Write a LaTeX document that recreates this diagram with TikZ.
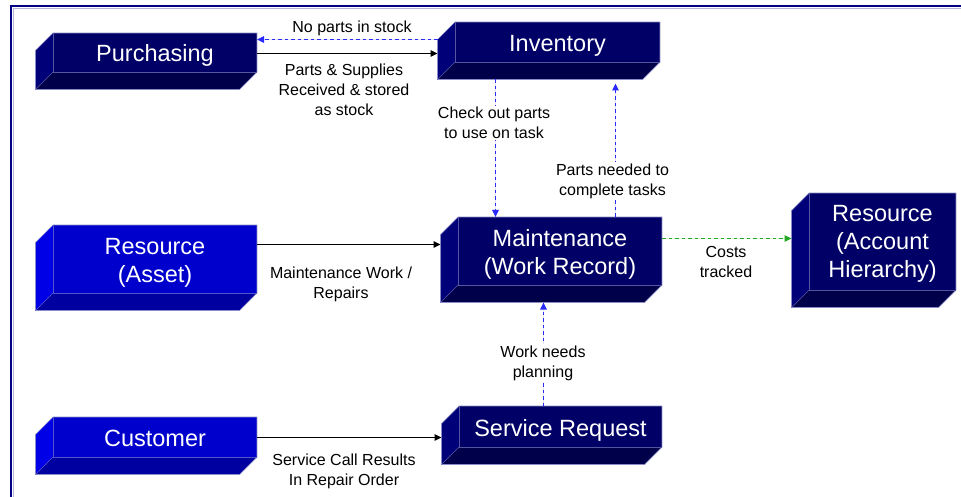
\documentclass[tikz,border=0pt]{standalone}
\usepackage{fontspec}
\setmainfont{Liberation Sans}
\usetikzlibrary{arrows.meta,calc}
\definecolor{navyF}{HTML}{000066}
\definecolor{navyS}{HTML}{000078}
\definecolor{navyB}{HTML}{00004A}
\definecolor{blueF}{HTML}{0000CC}
\definecolor{blueS}{HTML}{0000E6}
\definecolor{blueB}{HTML}{0000A0}
\definecolor{edgec}{HTML}{8C8CC8}
\definecolor{framec}{HTML}{000080}
\definecolor{framel}{HTML}{B4B4DC}
\definecolor{dblue}{HTML}{2A2AFF}
\definecolor{dgreen}{HTML}{22A822}
\tikzset{
  boxface/.style={draw=none, inner sep=0pt, outer sep=0pt},
  boxtext/.style={inner sep=0pt, align=center, text=white,
    font=\fontsize{23.5}{28}\selectfont},
  lbl/.style={align=center, inner sep=0.5pt, font=\fontsize{16}{20}\selectfont},
  lblw/.style={lbl, fill=white, inner sep=1.5pt},
  tip/.style={-{Triangle[length=7pt,width=6.5pt]}},
  solidarrow/.style={tip, draw=black, fill=black, line width=1pt},
  bluedash/.style={tip, draw=dblue, fill=dblue, line width=1.1pt, dash pattern=on 3.5pt off 3pt},
  greendash/.style={tip, draw=dgreen, fill=dgreen, line width=1.1pt, dash pattern=on 3.5pt off 3pt},
}
\newcommand\boxthree[8]{%
  \node[boxface, fill=#6, minimum width=#4pt, minimum height=#5pt] (#1) at (#2,#3) {};
  \fill[#7] (#1.north west) -- ($(#1.north west)+(-17.5,17.5)$) -- ($(#1.south west)+(-17.5,17.5)$) -- (#1.south west) -- cycle;
  \fill[#8] (#1.south west) -- (#1.south east) -- ($(#1.south east)+(-17.5,17.5)$) -- ($(#1.south west)+(-17.5,17.5)$) -- cycle;
  \draw[edgec, line width=0.7pt, line join=miter] ($(#1.north west)+(-17.5,17.5)$) -- (#1.north west) -- (#1.north east) -- (#1.south east) -- ($(#1.south east)+(-17.5,17.5)$) -- ($(#1.south west)+(-17.5,17.5)$) -- cycle;
  \draw[edgec!60!#6, line width=0.5pt] (#1.north west) -- (#1.south west) -- (#1.south east);
  \draw[edgec!60!#6, line width=0.5pt] (#1.south west) -- ($(#1.south west)+(-17.5,17.5)$);
  \coordinate (#1-bl) at ($(#1.west)+(-17.5,0)$);
  \coordinate (#1-b) at ($(#1.south)+(0,17.5)$);
}
\begin{document}
\begin{tikzpicture}[x=1pt,y=-1pt]
\useasboundingbox (0,0) rectangle (961,497);
\fill[white] (0,0) rectangle (961,497);
% frame
\draw[framel, line width=0.8pt] (13.6,497) -- (13.6,8.6) -- (961,8.6);
\draw[framec, line width=2.5pt] (11,497) -- (11,6) -- (961,6);

% boxes
\boxthree{purch}{155}{52.5}{204}{39}{navyF}{navyS}{navyB}
\boxthree{inv}{557.5}{42}{205}{40}{navyF}{navyS}{navyB}
\boxthree{asset}{155}{259}{204}{68}{blueF}{blueS}{blueB}
\boxthree{maint}{560}{251}{204}{68}{navyF}{navyS}{navyB}
\boxthree{acct}{882.5}{241.5}{147}{97}{navyF}{navyS}{navyB}
\boxthree{cust}{155}{437}{204}{40}{blueF}{blueS}{blueB}
\boxthree{serv}{560.5}{426.5}{203}{41}{navyF}{navyS}{navyB}

% box texts
\node[boxtext] (purch-t) at ([yshift=-3pt]purch.center) {Purchasing};
\node[boxtext] (inv-t) at ([yshift=-4pt]inv.center) {Inventory};
\node[boxtext] (asset-t) at ([yshift=-3.5pt]asset.center) {Resource\\(Asset)};
\node[boxtext] (maint-t) at ([yshift=-3pt]maint.center) {Maintenance\\(Work Record)};
\node[boxtext] (acct-t) at ([yshift=-2.5pt]acct.center) {Resource\\(Account\\Hierarchy)};
\node[boxtext] (cust-t) at ([yshift=-1.5pt]cust.center) {Customer};
\node[boxtext] (serv-t) at ([yshift=-4pt]serv.center) {Service Request};

% connectors
\draw[bluedash] ([yshift=13pt]purch.east -| inv-bl) -- ([yshift=13pt]purch.east);
\draw[solidarrow] ([yshift=-1pt]purch.east) -- ([yshift=-1pt]purch.east -| inv-bl);
\draw[bluedash] ([xshift=-62pt]inv-b -| inv.south) -- ([xshift=-62pt]maint.north -| inv.south);
\draw[bluedash] ([xshift=55.5pt]maint.north) -- ([xshift=55.5pt,yshift=-4pt]maint.north |- inv-b);
\draw[solidarrow] ([yshift=14.5pt]asset.east) -- ([yshift=14.5pt]asset.east -| maint-bl);
\draw[greendash] ([yshift=12.5pt]maint.east) -- ([yshift=12.5pt]maint.east -| acct-bl);
\draw[bluedash] ([xshift=-17pt]serv.north) -- ([xshift=-17pt]serv.north |- maint-b);
\draw[solidarrow] ([yshift=-0.5pt]cust.east) -- ([yshift=-0.5pt]cust.east -| serv-bl);

% labels
\node[lbl] (l-nostock) at (352,28) {No parts in stock};
\node[lbl] (l-received) at (344,89.5) {Parts \& Supplies\\Received \& stored\\as stock};
\node[lblw] (l-checkout) at (494,123) {Check out parts\\to use on task};
\node[lblw] (l-needed) at (612.5,181) {Parts needed to\\complete tasks};
\node[lbl] (l-repairs) at (341,284) {Maintenance Work /\\Repairs};
\node[lbl] (l-costs) at (726,262) {Costs\\tracked};
\node[lblw] (l-planning) at (543,363) {Work needs\\planning};
\node[lbl] (l-service) at (344,471.5) {Service Call Results\\In Repair Order};
\end{tikzpicture}
\end{document}
